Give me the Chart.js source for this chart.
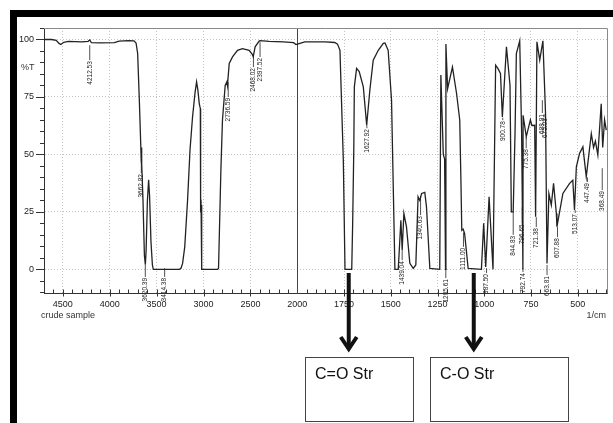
<!DOCTYPE html>
<html>
<head>
<meta charset="utf-8">
<script src="https://cdn.jsdelivr.net/npm/chart.js@4.4.0/dist/chart.umd.min.js"></script>
<style>
  html, body { margin: 0; padding: 0; background: #fff; }
  canvas { display: block; }
</style>
</head>
<body>
<canvas id="ir" width="613" height="423"></canvas>
<script>
// spectrum (wavenumber in 1/cm, %T)
const wavenumbers = [
  4700, 4620, 4570, 4540, 4520, 4490, 4440, 4300, 4230, 4212, 4195, 4100, 3950, 3900, 3800, 3740,
  3719, 3702, 3684, 3668, 3664, 3661, 3657, 3645, 3630, 3620, 3612, 3598, 3585, 3575, 3560, 3545,
  3535, 3258, 3240, 3223, 3200, 3170, 3144, 3117, 3090, 3074, 3060, 3045, 3034, 3032, 3030, 3026,
  3022, 3017, 2851, 2840, 2815, 2798, 2769, 2751, 2745, 2726, 2691, 2638, 2585, 2514, 2480, 2470,
  2450, 2407, 2397, 2300, 2150, 2040, 2015, 2000,
  1960, 1850, 1800, 1785, 1772, 1754, 1745, 1709, 1704, 1698, 1695, 1683, 1669, 1647, 1629, 1612,
  1594, 1567, 1540, 1531, 1514, 1496, 1478, 1460, 1446, 1439, 1430, 1416, 1398, 1380, 1366, 1354,
  1345, 1335, 1318, 1309, 1291, 1238, 1232, 1219, 1212, 1207, 1205, 1196, 1170, 1148, 1131, 1125,
  1120, 1113, 1105, 1086, 1015, 1003, 992, 974, 953, 939, 927, 913, 903, 881, 862, 855,
  845, 835, 828, 810, 800, 796, 793, 792, 775, 768, 753, 745, 730, 725, 718, 703,
  686, 677, 672, 664, 654, 641, 629, 614, 611, 579, 543, 526, 517, 507, 490, 472,
  454, 427, 415, 405, 392, 374, 366, 356, 347
];
const transmittance = [
  100, 100, 99.6, 98.3, 97.8, 98.8, 99.2, 99.0, 99.2, 99.8, 98.6, 98.5, 98.6, 99.3, 99.5, 99.4,
  98.5, 94, 73.6, 53, 47, 53, 46, 30, 6, 2, 8, 30, 39, 32, 12, 2,
  0, 0, 0.5, 2.6, 9.8, 30, 51.9, 66.3, 77, 81.6, 78, 72, 70, 50, 27, 28,
  8, 0, 0, 0.5, 43, 65, 80, 81.6, 80, 89.6, 92.4, 95.3, 96, 95.3, 93.5, 92.5,
  96.8, 99.3, 99.5, 99.2, 99, 98.6, 97.8, 98,
  99, 99, 98.7, 98, 95.3, 47.5, 0, 0, 20, 52, 79.4, 87.4, 86, 79.4, 62.7, 78,
  91, 95.3, 98.3, 98.5, 95.3, 73.6, 0, 0, 21.4, 8.4, 24.3, 18.5, 2.6, 0.4, 1.9, 31.6,
  30, 33, 33.5, 27.2, 0.4, 0, 84.5, 50, 48, 0, 98, 78.6, 88, 76.5, 65, 40,
  17, 17.5, 15.6, 0.4, 0, 20, 1, 31.6, 0, 88.8, 87.4, 85.2, 66.3, 96.8, 80, 25,
  25, 60, 93.9, 99.4, 60, 27.2, 0, 67, 57.7, 60, 65, 62.6, 62.7, 22.9, 99, 91,
  99.4, 79.4, 67.8, 2.6, 33, 28, 37.4, 24.3, 18.5, 33, 37.4, 38.8, 25.8, 44.6, 50.4, 53.3,
  40.3, 59, 53, 55.8, 49.7, 72, 53, 65, 60.6
];

const xMajorTicks = [4500, 4000, 3500, 3000, 2500, 2000, 1750, 1500, 1250, 1000, 750, 500];
const yMajorTicks = [0, 25, 50, 75, 100];

// peak picks: label, where the leader starts (%T) and where the text starts (%T)
const peakNames = ['4212.53', '3662.82', '3620.39', '3414.38', '2736.59', '2468.02', '2397.52',
  '1627.92', '1439.04', '1340.63', '1205.61', '1111.00', '987.50', '900.78', '844.83', '796.65',
  '792.74', '775.38', '721.38', '688.91', '675.03', '663.81', '607.88', '513.07', '447.49', '368.49'];
const peakFrom = [97.5, 46.6, 1.9, 0.5, 81.4, 92.7, 98.8, 62.7, 8.4, 31.9, 0.5, 16, 0.5, 66, 25, 27,
  0.5, 57.5, 22.7, 73.6, 67.5, 1.9, 18.4, 25.8, 40, 44];
const peakTo = [91, 41.9, -3.3, -3.3, 75, 88, 92.4, 61.4, 4, 23.6, -3.8, 9.8, -1.6, 64.9, 15, 20,
  -1.2, 52.7, 18.4, 68, 66.2, -2.5, 14, 24.5, 38, 34.5];

const bandNames = ['C=O Str', 'C-O Str'];
const bandWn = [1725, 1056];

// the x axis is compressed above 2000 1/cm, as on the instrument plot
const WN_HI = 4700, WN_BREAK = 2000, WN_LO = 343, SPLIT = 0.45;

class IrScale extends Chart.LinearScale {
  getPixelForValue(v) {
    const d = v >= WN_BREAK
      ? (WN_HI - v) / (WN_HI - WN_BREAK) * SPLIT
      : SPLIT + (WN_BREAK - v) / (WN_BREAK - WN_LO) * (1 - SPLIT);
    return this.getPixelForDecimal(d);
  }
  getValueForPixel(p) {
    const d = this.getDecimalForPixel(p);
    return d <= SPLIT
      ? WN_HI - d / SPLIT * (WN_HI - WN_BREAK)
      : WN_BREAK - (d - SPLIT) / (1 - SPLIT) * (WN_BREAK - WN_LO);
  }
}
IrScale.id = 'ir';
IrScale.defaults = Chart.LinearScale.defaults;
Chart.register(IrScale);

const FONT = '"Liberation Sans", Arial, sans-serif';

const extras = {
  id: 'extras',
  beforeDatasetsDraw(chart) {
    const { ctx, chartArea: a, scales: { x } } = chart;
    ctx.save();
    ctx.strokeStyle = '#444';
    ctx.lineWidth = 1;
    const px = Math.round(x.getPixelForValue(2000)) + 0.5;
    ctx.beginPath();
    ctx.moveTo(px, a.top);
    ctx.lineTo(px, a.bottom);
    ctx.stroke();
    ctx.restore();
  },
  afterDraw(chart) {
    const { ctx, chartArea: a, scales: { x, y } } = chart;
    ctx.save();

    // plot box top and right
    ctx.strokeStyle = '#8a8a8a';
    ctx.lineWidth = 1;
    ctx.beginPath();
    ctx.moveTo(a.left, a.top + 0.5);
    ctx.lineTo(a.right + 0.5, a.top + 0.5);
    ctx.lineTo(a.right + 0.5, a.bottom);
    ctx.stroke();

    // tick marks
    ctx.strokeStyle = '#333';
    ctx.beginPath();
    for (let v = -10; v <= 105; v += 5) {
      const py = Math.round(y.getPixelForValue(v)) + 0.5;
      const len = yMajorTicks.includes(v) ? 8 : 4;
      ctx.moveTo(a.left - len, py);
      ctx.lineTo(a.left, py);
    }
    const xMinor = [];
    for (let v = 4600; v > 2000; v -= 100) xMinor.push(v);
    for (let v = 1950; v > WN_LO; v -= 50) xMinor.push(v);
    xMinor.forEach(v => {
      const px = Math.round(x.getPixelForValue(v)) + 0.5;
      const major = xMajorTicks.includes(v);
      ctx.moveTo(px, a.bottom - 4);
      ctx.lineTo(px, a.bottom + (major ? 3 : 0));
    });
    ctx.stroke();

    // axis captions
    ctx.fillStyle = '#333';
    ctx.font = '9px ' + FONT;
    ctx.textBaseline = 'middle';
    ctx.textAlign = 'left';
    ctx.fillText('%T', 21, y.getPixelForValue(88));
    ctx.fillText('crude sample', 41, 316);
    ctx.textAlign = 'right';
    ctx.fillText('1/cm', 606, 316);

    // peak picks
    ctx.font = '6.5px ' + FONT;
    ctx.fillStyle = '#222';
    ctx.strokeStyle = '#222';
    ctx.lineWidth = 0.8;
    peakNames.forEach((name, i) => {
      const px = x.getPixelForValue(parseFloat(name));
      const y1 = y.getPixelForValue(peakFrom[i]);
      const y2 = y.getPixelForValue(peakTo[i]);
      ctx.beginPath();
      ctx.moveTo(px, y1);
      ctx.lineTo(px, y2);
      ctx.stroke();
      ctx.save();
      ctx.translate(px, y2 + 1);
      ctx.rotate(-Math.PI / 2);
      ctx.textAlign = 'right';
      ctx.textBaseline = 'middle';
      ctx.fillText(name, 0, 0);
      ctx.restore();
    });

    // band arrows and boxes
    ctx.strokeStyle = '#111';
    ctx.lineWidth = 4;
    ctx.lineCap = 'butt';
    bandWn.forEach(wn => {
      const px = x.getPixelForValue(wn);
      ctx.beginPath();
      ctx.moveTo(px, 273);
      ctx.lineTo(px, 347);
      ctx.stroke();
      ctx.beginPath();
      ctx.moveTo(px - 8, 337);
      ctx.lineTo(px, 349);
      ctx.lineTo(px + 8, 337);
      ctx.stroke();
    });
    const boxes = [[305, 357, 108, 64], [430, 357, 138, 64]];
    ctx.lineWidth = 1;
    ctx.strokeStyle = '#444';
    ctx.fillStyle = '#111';
    ctx.font = '16px ' + FONT;
    ctx.textAlign = 'left';
    ctx.textBaseline = 'alphabetic';
    boxes.forEach((b, i) => {
      ctx.strokeRect(b[0] + 0.5, b[1] + 0.5, b[2], b[3]);
      ctx.fillText(bandNames[i], b[0] + 10, b[1] + 22);
    });

    // black frame
    ctx.fillStyle = '#000';
    ctx.fillRect(10, 10, 603, 7);
    ctx.fillRect(10, 10, 7, 413);
    ctx.restore();
  }
};

new Chart(document.getElementById('ir'), {
  type: 'line',
  data: {
    datasets: [{
      data: wavenumbers.map((wn, i) => ({ x: wn, y: transmittance[i] })),
      borderColor: '#222',
      borderWidth: 1.3,
      pointRadius: 0,
      tension: 0,
      fill: false
    }]
  },
  options: {
    responsive: false,
    animation: false,
    layout: { padding: { top: 28, left: 0, right: 6, bottom: 99.5 } },
    plugins: { legend: { display: false }, tooltip: { enabled: false } },
    scales: {
      x: {
        type: 'ir',
        min: WN_LO,
        max: WN_HI,
        afterBuildTicks: s => { s.ticks = xMajorTicks.map(v => ({ value: v })); },
        afterFit: s => { s.height = 30; },
        grid: {
          color: c => (c.tick && c.tick.value !== 2000) ? '#c4c4c4' : 'rgba(0,0,0,0)',
          drawTicks: false
        },
        border: { color: '#333', width: 1, dash: [1, 2] },
        ticks: {
          autoSkip: false,
          maxRotation: 0,
          padding: 6,
          color: '#222',
          font: { size: 9, family: FONT },
          callback: v => String(v)
        }
      },
      y: {
        min: -10.5,
        max: 105,
        afterBuildTicks: s => { s.ticks = yMajorTicks.map(v => ({ value: v })); },
        afterFit: s => { s.width = 44; },
        grid: { color: '#c4c4c4', drawTicks: false },
        border: { color: '#333', width: 1, dash: [1, 2] },
        ticks: {
          padding: 10,
          color: '#222',
          font: { size: 9, family: FONT },
          callback: v => String(v)
        }
      }
    }
  },
  plugins: [extras]
});
</script>
</body>
</html>
